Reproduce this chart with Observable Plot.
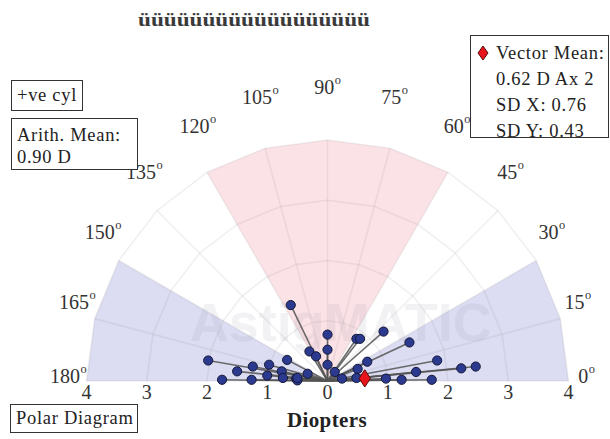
<!DOCTYPE html>
<html><head><meta charset="utf-8">
<script src="https://cdn.jsdelivr.net/npm/d3@7"></script>
<script src="https://cdn.jsdelivr.net/npm/@observablehq/plot@0.6"></script>
<style>
body{margin:0;background:#fff;}
#wrap{position:relative;width:610px;height:439px;font-family:"Liberation Serif",serif;color:#222;overflow:hidden;}
#wrap svg{display:block;}
.box{position:absolute;border:1px solid #333;background:#fff;font-size:18.5px;letter-spacing:0.7px;box-sizing:border-box;white-space:nowrap;}
</style></head><body><div id="wrap"></div>
<script>
// ---- data ----
const titleText = "üüüüüüüüüüüüüüüüüü";
const angleTicks = [0, 15, 30, 45, 60, 75, 90, 105, 120, 135, 150, 165, 180];
const ringRadii = [1, 2, 3, 4];
const axisTicks = [-4, -3, -2, -1, 0, 1, 2, 3, 4];
const pinkWedge = [60, 120];
const blueWedges = [[0, 30], [150, 180]];
// double-angle astigmatism points (diopters)
const ptX = [-0.61, -1.98, -0.67, -1.50, -1.24, -0.97, -1.00, -0.76, -1.75, -1.26, -0.74, -0.52, -0.50, -0.33,
             0.00, 0.00, 0.00, -0.30, -0.19, 0.48, 0.54, 0.93, 1.36, 0.66, 1.82, 2.22, 2.46, 1.47, 0.50, 0.48,
             0.12, 0.24, 0.97, 1.23, 1.73, -0.50];
const ptY = [1.26, 0.34, 0.35, 0.16, 0.24, 0.27, 0.09, 0.16, 0.02, 0.02, 0.05, 0.04, 0.01, 0.12,
             0.77, 0.52, 0.27, 0.49, 0.41, 0.70, 0.70, 0.82, 0.64, 0.32, 0.34, 0.21, 0.24, 0.15, 0.20, 0.05,
             0.15, 0.04, 0.04, 0.02, 0.02, 0.05];
const vectorMeanD = 0.62, vectorMeanAxis = 2;
const legendLines = ["Vector Mean:", "0.62 D Ax 2", "SD X: 0.76", "SD Y: 0.43"];
const arithLines = ["Arith. Mean:", "0.90 D"];

// ---- layout ----
const W = 610, H = 439, S = 60.25, CX = 327, CY = 380.5;
const rad = d => d * Math.PI / 180;
const outerR = ringRadii[ringRadii.length - 1];

const points = ptX.map((x, i) => ({x, y: ptY[i]}));
const vm = [{x: vectorMeanD * Math.cos(rad(2 * vectorMeanAxis)), y: vectorMeanD * Math.sin(rad(2 * vectorMeanAxis))}];

function wedge([a1, a2], id) {
  const arc = angleTicks.filter(a => a >= a1 && a <= a2).map(a => ({id, x: outerR * Math.cos(rad(a)), y: outerR * Math.sin(rad(a))}));
  return [{id, x: 0, y: 0}, ...arc, {id, x: 0, y: 0}];
}
const pinkPoly = wedge(pinkWedge, "p");
const bluePolys = blueWedges.flatMap((w, i) => wedge(w, "b" + i));
const ringPts = ringRadii.flatMap(r => angleTicks.map(a => ({r, x: r * Math.cos(rad(a)), y: r * Math.sin(rad(a))})));

const diamond = {
  draw(ctx, size) {
    const r = Math.sqrt(size / Math.PI);
    const h = 1.6 * r, w = 1.05 * r;
    ctx.moveTo(0, -h); ctx.lineTo(w, 0); ctx.lineTo(0, h); ctx.lineTo(-w, 0); ctx.closePath();
  }
};

const gridStroke = "#8a8a8a";
const chart = Plot.plot({
  width: W, height: H,
  marginTop: 0, marginRight: 0, marginBottom: 0, marginLeft: 0,
  x: {domain: [-CX / S, (W - CX) / S], axis: null},
  y: {domain: [-(H - CY) / S, CY / S], axis: null},
  style: {fontFamily: "Liberation Serif, serif", background: "transparent"},
  marks: [
    Plot.line(bluePolys, {x: "x", y: "y", z: "id", fill: "#dcdcf2", stroke: "none", curve: "linear"}),
    Plot.line(pinkPoly, {x: "x", y: "y", z: "id", fill: "#fbe2e6", stroke: "none", curve: "linear"}),
    Plot.text(["AstigMATIC"], {x: () => 0.22, y: () => 0.95, text: d => d, fontSize: 54, fontWeight: "bold",
      fontFamily: "Liberation Sans, sans-serif", fill: "#8080a0", fillOpacity: 0.1}),
    Plot.line(ringPts, {x: "x", y: "y", z: "r", stroke: gridStroke, strokeOpacity: 0.13, strokeWidth: 1.6}),
    Plot.link(angleTicks, {x1: () => 0, y1: () => 0, x2: a => outerR * Math.cos(rad(a)), y2: a => outerR * Math.sin(rad(a)),
      stroke: gridStroke, strokeOpacity: 0.13, strokeWidth: 1.6}),
    Plot.link(points, {x1: () => 0, y1: () => 0, x2: "x", y2: "y", stroke: "#555", strokeWidth: 1.6, strokeOpacity: 0.85}),
    Plot.dot(points, {x: "x", y: "y", r: 4.6, fill: "#2b3a8e", stroke: "#141838", strokeWidth: 1}),
    Plot.dot(vm, {x: "x", y: "y", r: 5.4, symbol: diamond, fill: "#e8141c", stroke: "#5a0a0a", strokeWidth: 1}),
    Plot.text(axisTicks, {x: d => d, y: () => -0.2, text: d => String(Math.abs(d)), fontSize: 20, fill: "#333", lineAnchor: "middle"}),
    Plot.text(angleTicks, {x: a => 4.3 * Math.cos(rad(a)), y: a => 4.8 * Math.sin(rad(a)), text: a => a + "°",
      fontSize: 20, fill: "#333", lineAnchor: "middle", dy: -4})
  ]
});
const wrap = document.getElementById("wrap");
wrap.appendChild(chart);
// superscript "o" on angle labels
chart.querySelectorAll("text").forEach(t => {
  const s = t.textContent;
  if (s.endsWith("°")) {
    t.textContent = s.slice(0, -1);
    const ts = document.createElementNS("http://www.w3.org/2000/svg", "tspan");
    ts.setAttribute("dy", "-0.8em");
    ts.setAttribute("dx", "0.5");
    ts.setAttribute("font-size", "0.62em");
    ts.textContent = "o";
    t.appendChild(ts);
  }
});

// ---- overlays ----
function el(html) { const d = document.createElement("div"); d.innerHTML = html; const n = d.firstElementChild; wrap.appendChild(n); return n; }
el(`<svg style="position:absolute;left:0;top:0" width="610" height="40"><text x="254" y="26" text-anchor="middle" textLength="232" lengthAdjust="spacingAndGlyphs" font-family="Liberation Serif, serif" font-weight="bold" font-size="19" fill="#3a3a3a">${titleText}</text></svg>`);
el(`<div class="box" style="left:470px;top:35px;width:139px;height:103px;padding:4px 0 0 25px;line-height:26px;">
<svg style="position:absolute;left:6px;top:9px" width="12" height="16"><path d="M6,1L11,8L6,15L1,8Z" fill="#e8141c" stroke="#5a0a0a" stroke-width="1"/></svg>
${legendLines.join("<br>")}</div>`);
el(`<div class="box" style="left:11px;top:80px;width:72px;height:31px;padding:0 0 0 5px;line-height:29px;">+ve cyl</div>`);
el(`<div class="box" style="left:11px;top:118px;width:127px;height:52px;padding:5px 0 0 5px;line-height:22px;">${arithLines.join("<br>")}</div>`);
el(`<div class="box" style="left:10px;top:404px;width:128px;height:29px;padding:0 0 0 5px;line-height:27px;">Polar Diagram</div>`);
el(`<div style="position:absolute;left:227px;width:200px;top:408px;text-align:center;font-weight:bold;font-size:21px;letter-spacing:0.4px;color:#222;">Diopters</div>`);
</script></body></html>
